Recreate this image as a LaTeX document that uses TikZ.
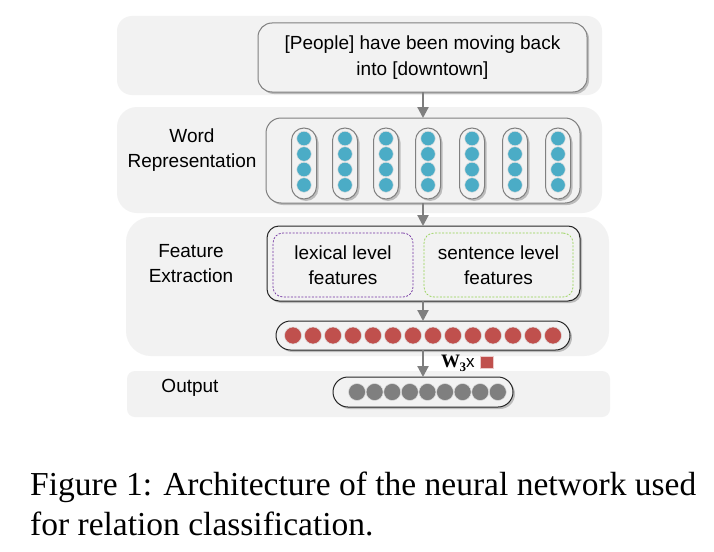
\documentclass[tikz,border=0pt]{standalone}
\usepackage{fontspec}
\setmainfont{Liberation Sans}
\newfontfamily\capfont{Liberation Serif}
\usetikzlibrary{shadows,arrows.meta}
\definecolor{panelgray}{HTML}{F2F2F2}
\definecolor{boxgray}{HTML}{F2F2F2}
\definecolor{bordergray}{HTML}{808080}
\definecolor{darkborder}{HTML}{262626}
\definecolor{arrowgray}{HTML}{7F7F7F}
\definecolor{bluedot}{HTML}{4BACC6}
\definecolor{reddot}{HTML}{C0504D}
\definecolor{graydot}{HTML}{7F7F7F}
\definecolor{lexpurple}{HTML}{7030A0}
\definecolor{sentgreen}{HTML}{92D050}
\newcommand{\txtfont}{\fontsize{19}{25.5}\selectfont}
\tikzset{
  panel/.style={fill=panelgray, draw=none, inner sep=0pt, outer sep=0pt},
  softshadow/.style={drop shadow={shadow xshift=2pt, shadow yshift=-2pt, opacity=0.22, fill=black}},
  graybox/.style={fill=boxgray, draw=bordergray, line width=1pt, inner sep=0pt, outer sep=0pt, softshadow},
  darkbox/.style={fill=boxgray, draw=darkborder, line width=1pt, inner sep=0pt, outer sep=0pt, softshadow},
  dashbox/.style={draw, dashed, dash pattern=on 2pt off 1.5pt, line width=0.7pt, inner sep=0pt, outer sep=0pt, rounded corners=10pt, align=center, font=\txtfont},
  wpill/.style={graybox, minimum width=25pt, minimum height=71pt, rounded corners=12.5pt},
  dot/.style={circle, inner sep=0pt, outer sep=0pt, draw=white!75!gray, line width=0.5pt},
  bdot/.style={dot, fill=bluedot, minimum size=14.5pt},
  rdot/.style={dot, fill=reddot, minimum size=17pt},
  gdot/.style={dot, fill=graydot, minimum size=17pt},
  lbl/.style={align=center, font=\txtfont, inner sep=0pt},
  arr/.style={draw=arrowgray, line width=2.2pt, -{Triangle[width=11pt,length=11pt]}, shorten >=0pt},
}
\begin{document}
\begin{tikzpicture}[x=1pt,y=-1pt]
\useasboundingbox (0,0) rectangle (714,551);
\fill[white] (0,0) rectangle (714,551);
% panels
\node[panel, minimum width=485pt, minimum height=79pt, rounded corners=15pt] (p1) at (359.5,55.5) {};
\node[panel, minimum width=485pt, minimum height=106pt, rounded corners=20pt] (p2) at (359.5,160) {};
\node[panel, minimum width=483pt, minimum height=139pt, rounded corners=25pt] (p3) at (367.5,286.5) {};
\node[panel, minimum width=483pt, minimum height=46pt, rounded corners=8pt] (p4) at (368.5,394) {};
% sentence box
\node[graybox, minimum width=329pt, minimum height=69pt, rounded corners=14pt, align=center, font=\txtfont] (sent) at (422.5,57.5) {[People] have been moving back\\into [downtown]};
% word representation
\node[lbl] (wrlbl) at (192,150) {Word\\Representation};
\node[graybox, minimum width=314pt, minimum height=85pt, rounded corners=15pt] (wr) at (423,160.5) {};
\foreach \i/\x in {1/304,2/345,3/386,4/428,5/472,6/515,7/558}{
  \node[wpill] (pill\i) at (\x,163.5) {};
  \foreach \k in {0,1,2,3}{
    \node[bdot] (bd\i\k) at (\x,138.5+15.5*\k) {};
  }
}
% feature extraction
\node[lbl] (felbl) at (191,263.5) {Feature\\Extraction};
\node[darkbox, minimum width=313pt, minimum height=75pt, rounded corners=12pt] (fe) at (423.5,263.5) {};
\node[dashbox, draw=lexpurple, minimum width=140pt, minimum height=64pt] (lex) at (343,265) {lexical level\\features};
\node[dashbox, draw=sentgreen, minimum width=149pt, minimum height=64pt] (sen) at (498.5,265) {sentence level\\features};
% red vector
\node[darkbox, minimum width=294pt, minimum height=29pt, rounded corners=14.5pt] (rv) at (423,335.5) {};
\foreach \j in {0,...,13}{
  \node[rdot] (rd\j) at (293+20*\j,335.5) {};
}
% output
\node[lbl] (outlbl) at (190,388) {Output};
\node[darkbox, minimum width=180pt, minimum height=30pt, rounded corners=15pt] (ov) at (423,392) {};
\foreach \j in {0,...,8}{
  \node[gdot] (gd\j) at (357+17.6*\j,392) {};
}
% arrows
\coordinate (ax) at (423,0);
\draw[arr] (sent.south -| ax) -- (wr.north -| ax);
\draw[arr] (wr.south -| ax) -- (fe.north -| ax);
\draw[arr] (fe.south -| ax) -- (rv.north -| ax);
\draw[arr] (rv.south -| ax) -- (ov.north -| ax);
% W3 x label
\node[anchor=base west, inner sep=0pt] (w3) at (441,367) {{\capfont\bfseries\fontsize{19}{19}\selectfont W\kern-0.5pt\raisebox{-4.5pt}{\fontsize{13}{13}\selectfont 3}}{\fontsize{17}{17}\selectfont x}};
\node[fill=reddot, draw=white!70!reddot, line width=0.4pt, minimum size=12.5pt, inner sep=0pt] (sq) at (486.5,362) {};
% caption
\node[anchor=base west, inner sep=0pt, font=\capfont\fontsize{33.5}{40}\selectfont] (cap1) at (30,495) {Figure 1: Architecture of the neural network used};
\node[anchor=base west, inner sep=0pt, font=\capfont\fontsize{33.5}{40}\selectfont] (cap2) at (30,535) {for relation classification.};
\end{tikzpicture}
\end{document}
